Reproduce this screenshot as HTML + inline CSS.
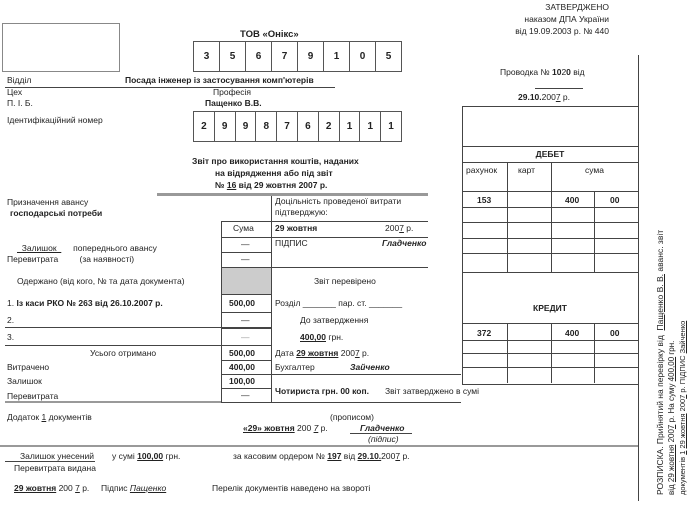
<!DOCTYPE html>
<html><head><meta charset="utf-8"><style>
body{margin:0;width:700px;height:505px;background:#fff;position:relative;overflow:hidden;font-family:"Liberation Sans","DejaVu Sans",sans-serif;font-size:8.5px;color:#222}
.a{position:absolute;white-space:nowrap;line-height:10px}
.b{font-weight:bold}
.i{font-style:italic;font-weight:bold}
.h{position:absolute;height:0;border-top:1px solid #444}
.v{position:absolute;width:0;border-left:1px solid #444}
.g{border-color:#999}
.c{text-align:center}
u{text-decoration:underline}
.box{position:absolute;border:1px solid #555;display:flex}
.box div{flex:1;border-right:1px solid #555;text-align:center;font-weight:bold;font-size:10px;display:flex;align-items:center;justify-content:center}
.box div:last-child{border-right:none}
</style></head><body>
<div class="a" style="right:91px;top:2px">ЗАТВЕРДЖЕНО</div>
<div class="a" style="right:91px;top:14px">наказом ДПА України</div>
<div class="a" style="right:91px;top:26px">від 19.09.2003 р. № 440</div>

<div style="position:absolute;left:2px;top:23px;width:116px;height:47px;border:1px solid #888"></div>
<div class="a b" style="left:240px;top:30px;font-size:9.5px">ТОВ «Онікс»</div>
<div class="box" style="left:193px;top:41px;width:207px;height:29px"><div>3</div><div>5</div><div>6</div><div>7</div><div>9</div><div>1</div><div>0</div><div>5</div></div>

<div class="a" style="left:7px;top:75px">Відділ</div>
<div class="a b" style="left:125px;top:75px">Посада інженер із застосування комп'ютерів</div>
<div class="h" style="left:5px;top:87px;width:330px"></div>
<div class="a" style="left:7px;top:87px">Цех</div>
<div class="a" style="left:213px;top:87px">Професія</div>
<div class="a" style="left:7px;top:98px">П. І. Б.</div>
<div class="a b" style="left:205px;top:98px">Пащенко В.В.</div>
<div class="a" style="left:7px;top:115px">Ідентифікаційний номер</div>
<div class="box" style="left:193px;top:111px;width:207px;height:29px"><div>2</div><div>9</div><div>9</div><div>8</div><div>7</div><div>6</div><div>2</div><div>1</div><div>1</div><div>1</div></div>

<div class="a b" style="left:192px;top:156px">Звіт про використання коштів, наданих</div>
<div class="a b" style="left:215px;top:168px">на відрядження або під звіт</div>
<div class="a b" style="left:215px;top:180px">№ <u>16</u> від 29 жовтня 2007 р.</div>

<div class="h g" style="left:157px;top:193px;width:271px;border-top-width:3px"></div>
<div class="v" style="left:271px;top:196px;height:206px"></div>

<div class="a" style="left:7px;top:197px">Призначення авансу</div>
<div class="a b" style="left:10px;top:208px">господарські потреби</div>
<div class="a" style="left:275px;top:196px">Доцільність проведеної витрати</div>
<div class="a" style="left:275px;top:207px">підтверджую:</div>

<div class="v" style="left:221px;top:221px;height:181px"></div>
<div class="h" style="left:221px;top:221px;width:207px"></div>
<div class="a" style="left:233px;top:223px">Сума</div>
<div class="a b" style="left:275px;top:223px">29 жовтня</div>
<div class="a" style="left:385px;top:223px">200<u>7</u> р.</div>
<div class="h" style="left:221px;top:237px;width:207px"></div>
<div class="a" style="left:241px;top:239px">—</div>
<div class="a" style="left:275px;top:238px">ПІДПИС</div>
<div class="a i" style="left:382px;top:238px">Гладченко</div>
<div class="a" style="left:17px;top:243px"><u>&nbsp;&nbsp;Залишок&nbsp;&nbsp;</u>&nbsp;&nbsp;&nbsp;&nbsp;&nbsp;попереднього авансу</div>
<div class="a" style="left:7px;top:254px">Перевитрата&nbsp;&nbsp;&nbsp;&nbsp;&nbsp;&nbsp;&nbsp;&nbsp;&nbsp;(за наявності)</div>
<div class="h" style="left:221px;top:252px;width:50px"></div>
<div class="a" style="left:241px;top:254px">—</div>
<div class="h" style="left:221px;top:267px;width:207px"></div>
<div style="position:absolute;left:222px;top:268px;width:49px;height:26px;background:#ccc"></div>
<div class="a" style="left:17px;top:276px">Одержано (від кого, № та дата документа)</div>
<div class="a" style="left:314px;top:276px">Звіт перевірено</div>
<div class="h" style="left:221px;top:294px;width:50px"></div>

<div class="a" style="left:7px;top:298px">1. <b>Із каси РКО № 263 від 26.10.2007 р.</b></div>
<div class="a b" style="left:229px;top:298px">500,00</div>
<div class="a" style="left:275px;top:298px">Розділ _______ пар. ст. _______</div>
<div class="h" style="left:221px;top:312px;width:50px"></div>
<div class="a" style="left:7px;top:315px">2.</div>
<div class="h" style="left:5px;top:327px;width:216px"></div>
<div class="a" style="left:241px;top:315px">—</div>
<div class="a" style="left:300px;top:315px">До затвердження</div>
<div class="h" style="left:221px;top:327px;width:50px;border-top-width:2px"></div>
<div class="a" style="left:7px;top:332px">3.</div>
<div class="h" style="left:5px;top:345px;width:216px"></div>
<div class="a" style="left:241px;top:332px;color:#999">—</div>
<div class="a" style="left:300px;top:332px"><u><b>400,00</b></u> грн.</div>
<div class="h" style="left:221px;top:345px;width:50px"></div>
<div class="a" style="left:90px;top:348px">Усього отримано</div>
<div class="a b" style="left:229px;top:348px">500,00</div>
<div class="a" style="left:275px;top:348px">Дата <u><b>29 жовтня</b></u> 200<u>7</u> р.</div>
<div class="h" style="left:221px;top:360px;width:50px"></div>
<div class="a" style="left:7px;top:362px">Витрачено</div>
<div class="a b" style="left:229px;top:362px">400,00</div>
<div class="a" style="left:275px;top:362px">Бухгалтер</div>
<div class="a i" style="left:350px;top:362px">Зайченко</div>
<div class="h" style="left:221px;top:374px;width:240px"></div>
<div class="a" style="left:7px;top:376px">Залишок</div>
<div class="a b" style="left:229px;top:376px">100,00</div>
<div class="h" style="left:221px;top:388px;width:50px"></div>
<div class="a" style="left:7px;top:391px">Перевитрата</div>
<div class="h g" style="left:5px;top:401px;width:216px;border-top-width:2px"></div>
<div class="a" style="left:241px;top:390px">—</div>
<div class="a b" style="left:275px;top:386px">Чотириста грн. 00 коп.</div>
<div class="a" style="left:385px;top:386px">Звіт затверджено в сумі</div>
<div class="h" style="left:221px;top:402px;width:240px"></div>

<div class="a" style="left:7px;top:412px">Додаток <u>1</u> документів</div>
<div class="a" style="left:330px;top:412px">(прописом)</div>
<div class="a" style="left:243px;top:423px"><u><b>«29» жовтня</b></u> 200 <u><i>7</i></u> р.</div>
<div class="a i" style="left:360px;top:423px">Гладченко</div>
<div class="h" style="left:350px;top:433px;width:62px"></div>
<div class="a" style="left:368px;top:434px;font-style:italic">(підпис)</div>

<div class="h g" style="left:0;top:445px;width:638px;border-top-width:2px"></div>
<div class="a" style="left:20px;top:451px">Залишок унесений</div>
<div class="h" style="left:5px;top:461px;width:90px"></div>
<div class="a" style="left:112px;top:451px">у сумі <u><b>100,00</b></u> грн.</div>
<div class="a" style="left:233px;top:451px">за касовим ордером № <u><b>197</b></u> від <u><b>29.10.</b></u>200<u>7</u> р.</div>
<div class="a" style="left:14px;top:463px">Перевитрата видана</div>
<div class="a" style="left:14px;top:483px"><u><b>29 жовтня</b></u> 200 <u>7</u> р.</div>
<div class="a" style="left:101px;top:483px">Підпис <u><i>Пащенко</i></u></div>
<div class="a" style="left:212px;top:483px">Перелік документів наведено на звороті</div>

<div class="v" style="left:638px;top:55px;height:446px"></div>
<div class="a" style="left:500px;top:67px">Проводка № <b>10</b>2<b>0</b> від</div>
<div class="h" style="left:535px;top:88px;width:48px"></div>
<div class="a" style="left:518px;top:92px"><b>29.10.</b>200<u>7</u> р.</div>

<div style="position:absolute;left:462px;top:106px;width:175px;height:277px;border:1px solid #444;border-right:none"></div>
<div class="h" style="left:462px;top:146px;width:176px"></div>
<div class="a b c" style="left:462px;top:149px;width:176px">ДЕБЕТ</div>
<div class="h" style="left:462px;top:162px;width:176px"></div>
<div class="a" style="left:466px;top:165px">рахунок</div>
<div class="a" style="left:518px;top:165px">карт</div>
<div class="a" style="left:585px;top:165px">сума</div>
<div class="h" style="left:462px;top:191px;width:176px"></div>
<div class="a b" style="left:477px;top:195px">153</div>
<div class="a b" style="left:565px;top:195px">400</div>
<div class="a b" style="left:610px;top:195px">00</div>
<div class="h" style="left:462px;top:207px;width:176px"></div>
<div class="h" style="left:462px;top:222px;width:176px"></div>
<div class="h" style="left:462px;top:238px;width:176px"></div>
<div class="h" style="left:462px;top:253px;width:176px"></div>
<div class="h" style="left:462px;top:272px;width:176px"></div>
<div class="v" style="left:507px;top:162px;height:110px"></div>
<div class="v" style="left:551px;top:162px;height:110px"></div>
<div class="v" style="left:594px;top:191px;height:81px"></div>
<div class="a b c" style="left:462px;top:303px;width:176px">КРЕДИТ</div>
<div class="h" style="left:462px;top:323px;width:176px"></div>
<div class="a b" style="left:477px;top:328px">372</div>
<div class="a b" style="left:565px;top:328px">400</div>
<div class="a b" style="left:610px;top:328px">00</div>
<div class="h" style="left:462px;top:340px;width:176px"></div>
<div class="h" style="left:462px;top:353px;width:176px"></div>
<div class="h" style="left:462px;top:367px;width:176px"></div>
<div class="v" style="left:507px;top:323px;height:60px"></div>
<div class="v" style="left:551px;top:323px;height:60px"></div>
<div class="v" style="left:594px;top:323px;height:60px"></div>

<div class="a" style="left:655px;top:495px;transform:rotate(-90deg);transform-origin:0 0;font-size:8.5px">РОЗПИСКА. Прийнятий на перевірку від&nbsp; <u>Пащенко В. В.</u> аванс. звіт</div>
<div class="a" style="left:667px;top:495px;transform:rotate(-90deg);transform-origin:0 0;font-size:8px">від <u>29 жовтня</u> 200<u>7</u> р. На суму <u>400,00</u> грн.</div>
<div class="a" style="left:678px;top:495px;transform:rotate(-90deg);transform-origin:0 0;font-size:7.5px">документів <u>1</u> <u>29 жовтня</u> 200<u>7</u> р. ПІДПИС <u>Зайченко</u></div>
</body></html>
